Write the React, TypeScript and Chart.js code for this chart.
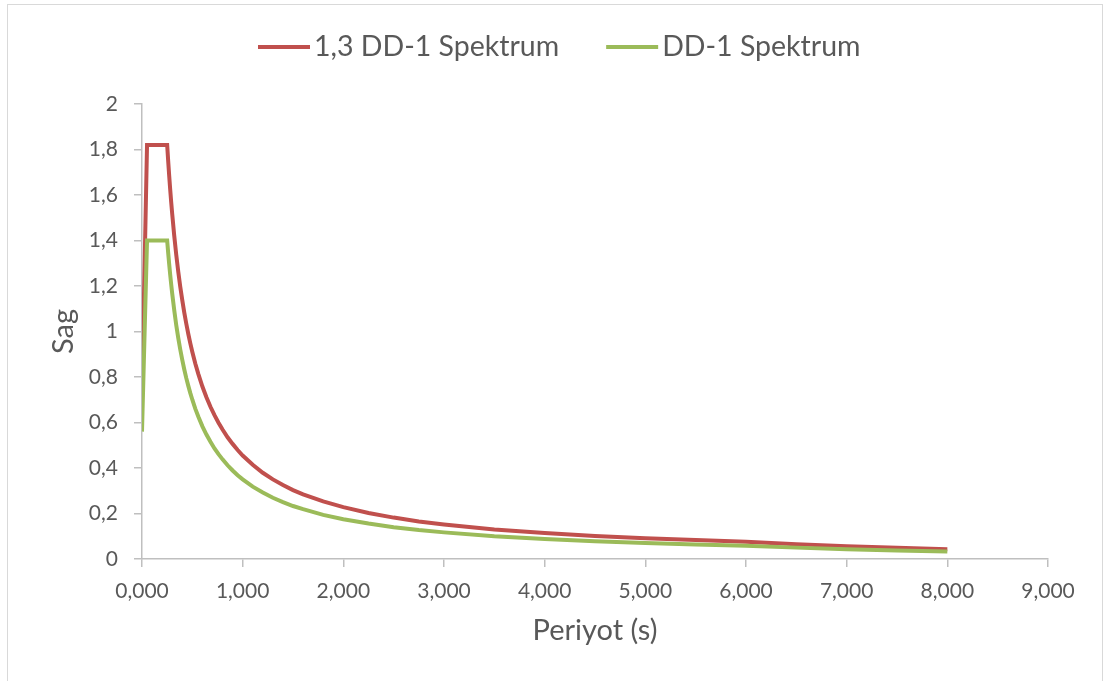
import React, { useEffect, useRef } from "react";
import { Chart, registerables } from "chart.js";

Chart.register(...registerables);

const periods = [
  0, 0.05, 0.25, 0.26, 0.27, 0.28, 0.29, 0.3, 0.32, 0.34, 0.36, 0.38, 0.4, 0.42, 0.44, 0.46,
  0.48, 0.5, 0.53, 0.56, 0.6, 0.64, 0.68, 0.72, 0.76, 0.8, 0.85, 0.9, 0.95, 1.0, 1.1, 1.2,
  1.3, 1.4, 1.5, 1.6, 1.8, 2.0, 2.25, 2.5, 2.75, 3.0, 3.5, 4.0, 4.5, 5.0, 5.5, 6.0,
  6.5, 7.0, 7.5, 8.0,
];
const dd1Scaled = [
  0.728, 1.82, 1.82, 1.75, 1.685, 1.625, 1.569, 1.517, 1.422, 1.338, 1.264, 1.197, 1.138, 1.083, 1.034, 0.989,
  0.948, 0.91, 0.858, 0.813, 0.758, 0.711, 0.669, 0.632, 0.599, 0.569, 0.535, 0.506, 0.479, 0.455, 0.414, 0.379,
  0.35, 0.325, 0.303, 0.284, 0.253, 0.228, 0.202, 0.182, 0.165, 0.152, 0.13, 0.114, 0.101, 0.091, 0.083, 0.076,
  0.065, 0.056, 0.049, 0.043,
];
const dd1 = [
  0.56, 1.4, 1.4, 1.346, 1.296, 1.25, 1.207, 1.167, 1.094, 1.029, 0.972, 0.921, 0.875, 0.833, 0.795, 0.761,
  0.729, 0.7, 0.66, 0.625, 0.583, 0.547, 0.515, 0.486, 0.461, 0.438, 0.412, 0.389, 0.368, 0.35, 0.318, 0.292,
  0.269, 0.25, 0.233, 0.219, 0.194, 0.175, 0.156, 0.14, 0.127, 0.117, 0.1, 0.088, 0.078, 0.07, 0.064, 0.058,
  0.05, 0.043, 0.037, 0.033,
];
const seriesLabels = ["1,3 DD-1 Spektrum", "DD-1 Spektrum"];
const seriesColors = ["#C0504D", "#9BBB59"];
const xTitle = "Periyot (s)";
const yTitle = "Sag";

const FONT = "Lato";
const TEXT = "#595959";
const AXIS = "#BFBFBF";

const legendPlugin = {
  id: "customLegend",
  afterDraw(chart: any) {
    const ctx = chart.ctx;
    ctx.save();
    ctx.font = `28.5px ${FONT}`;
    ctx.textBaseline = "middle";
    const lineLen = 52;
    const gap = 4;
    const itemGap = 47;
    const ds = chart.data.datasets;
    const widths = ds.map((d: any) => lineLen + gap + ctx.measureText(d.label).width);
    const total = widths.reduce((a: number, b: number) => a + b, 0) + itemGap * (ds.length - 1);
    let x = 250;
    const y = 42;
    ds.forEach((d: any, i: number) => {
      ctx.strokeStyle = d.borderColor;
      ctx.lineWidth = 4;
      ctx.lineCap = "butt";
      ctx.beginPath();
      ctx.moveTo(x, y);
      ctx.lineTo(x + lineLen, y);
      ctx.stroke();
      ctx.fillStyle = TEXT;
      ctx.textAlign = "left";
      ctx.fillText(d.label, x + lineLen + gap, y);
      x += widths[i] + itemGap;
    });
    void total;
    ctx.restore();
  },
};

export default function App() {
  const ref = useRef<HTMLCanvasElement>(null);
  useEffect(() => {
    if (!ref.current) return;
    const mk = (vals: number[]) => periods.map((t, i) => ({ x: t, y: vals[i] }));
    const chart = new Chart(ref.current, {
      type: "line",
      data: {
        datasets: [
          {
            label: seriesLabels[0],
            data: mk(dd1Scaled),
            borderColor: seriesColors[0],
            backgroundColor: seriesColors[0],
            borderWidth: 4,
            pointRadius: 0,
            tension: 0,
            order: 2,
          },
          {
            label: seriesLabels[1],
            data: mk(dd1),
            borderColor: seriesColors[1],
            backgroundColor: seriesColors[1],
            borderWidth: 4,
            pointRadius: 0,
            tension: 0,
            order: 1,
          },
        ],
      },
      options: {
        animation: false,
        responsive: false,
        layout: { padding: { top: 99, right: 54, bottom: 40, left: 34 } },
        plugins: { legend: { display: false }, tooltip: { enabled: false } },
        scales: {
          x: {
            type: "linear",
            min: 0,
            max: 9,
            afterFit: (s: any) => {
              s.height = 104;
            },
            ticks: {
              stepSize: 1,
              color: TEXT,
              padding: 12,
              maxRotation: 0,
              font: { family: FONT, size: 21 },
              callback: (v: any) => Number(v).toFixed(3).replace(".", ","),
            },
            grid: { drawOnChartArea: false, drawTicks: true, tickLength: 8, color: AXIS, lineWidth: 1.5 },
            border: { color: AXIS, width: 1.5 },
            title: {
              display: true,
              text: xTitle,
              color: TEXT,
              font: { family: FONT, size: 29 },
              padding: { top: 0, bottom: 15 },
              align: "center",
            },
          },
          y: {
            min: 0,
            max: 2,
            afterFit: (s: any) => {
              s.width = 100;
            },
            ticks: {
              stepSize: 0.2,
              color: TEXT,
              padding: 16,
              font: { family: FONT, size: 21 },
              callback: (v: any) => String(Number(Number(v).toFixed(1))).replace(".", ","),
            },
            grid: { drawOnChartArea: false, drawTicks: true, tickLength: 8, color: AXIS, lineWidth: 1.5 },
            border: { color: AXIS, width: 1.5 },
            title: {
              display: true,
              text: yTitle,
              color: TEXT,
              font: { family: FONT, size: 29 },
              padding: { top: 4, bottom: 4 },
            },
          },
        },
      },
      plugins: [legendPlugin],
    });
    return () => chart.destroy();
  }, []);

  return (
    <div
      style={{
        position: "fixed",
        left: 7,
        top: 4,
        width: 1096,
        height: 700,
        border: "1px solid #D9D9D9",
        boxSizing: "border-box",
        background: "#fff",
      }}
    >
      <canvas ref={ref} width={1094} height={698} style={{ width: 1094, height: 698, display: "block" }} />
    </div>
  );
}
